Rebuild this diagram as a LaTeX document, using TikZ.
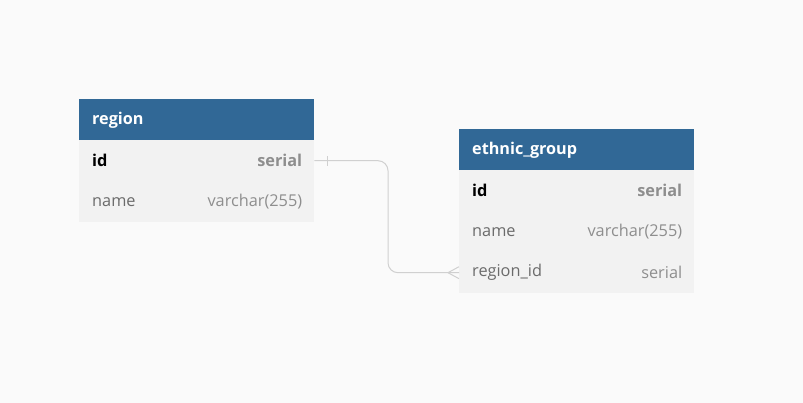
\documentclass[tikz,border=0pt]{standalone}
\usepackage{fontspec}
\setmainfont{Open Sans}
\begin{document}
\begin{tikzpicture}[x=1pt,y=-1pt,
  hdr/.style={fill=hdrblue,draw=none,minimum width=235pt,minimum height=41pt,inner sep=0pt,anchor=north west},
  rowbox/.style={fill=rowgray,draw=none,minimum width=235pt,minimum height=41pt,inner sep=0pt,anchor=north west},
  htext/.style={anchor=west,text=white,font=\fontsize{16.2}{19}\selectfont\bfseries,inner sep=0pt},
  fname/.style={anchor=west,text=namegray,font=\fontsize{16.3}{19}\selectfont,inner sep=0pt},
  fkey/.style={anchor=west,text=black,font=\fontsize{16.3}{19}\selectfont\bfseries,inner sep=0pt},
  ftype/.style={anchor=east,text=typegray,font=\fontsize{16.3}{19}\selectfont,inner sep=0pt},
  fktype/.style={anchor=east,text=typegray,font=\fontsize{16.3}{19}\selectfont\bfseries,inner sep=0pt},
  conn/.style={draw=linegray,line width=1pt}
]
\definecolor{hdrblue}{HTML}{316896}
\definecolor{rowgray}{HTML}{F2F2F2}
\definecolor{namegray}{HTML}{6B6B6B}
\definecolor{typegray}{HTML}{8E8E8E}
\definecolor{linegray}{HTML}{D0D0D0}
\definecolor{bg}{HTML}{FAFAFA}
\fill[bg] (0,0) rectangle (803,403);
\useasboundingbox (0,0) rectangle (803,403);

% region table
\node[hdr] (rh) at (79,99) {};
\node[rowbox] (r1) at (79,140) {};
\node[rowbox] (r2) at (79,181) {};
\node[htext] (rht) at ([xshift=13pt,yshift=-1pt]rh.west) {region};
\node[fkey] (r1n) at ([xshift=13pt]r1.west) {id};
\node[fktype] (r1t) at ([xshift=-12pt]r1.east) {serial};
\node[fname] (r2n) at ([xshift=13pt]r2.west) {name};
\node[ftype] (r2t) at ([xshift=-12pt]r2.east) {varchar(255)};

% ethnic_group table
\node[hdr] (eh) at (459,129) {};
\node[rowbox] (e1) at (459,170) {};
\node[rowbox] (e2) at (459,211) {};
\node[rowbox] (e3) at (459,252) {};
\node[htext] (eht) at ([xshift=13pt,yshift=-1pt]eh.west) {ethnic\_group};
\node[fkey] (e1n) at ([xshift=13pt]e1.west) {id};
\node[fktype] (e1t) at ([xshift=-12pt]e1.east) {serial};
\node[fname] (e2n) at ([xshift=13pt]e2.west) {name};
\node[ftype] (e2t) at ([xshift=-12pt]e2.east) {varchar(255)};
\node[fname] (e3n) at ([xshift=13pt]e3.west) {region\_id};
\node[ftype] (e3t) at ([xshift=-12pt]e3.east) {serial};

% connector
\coordinate (bend) at (388,0);
\draw[conn,rounded corners=10pt] (r1.east) -- (r1.east -| bend) -- (e3.west -| bend) -- (e3.west);
% one mark
\draw[conn] ([xshift=13pt,yshift=-5pt]r1.east) -- ([xshift=13pt,yshift=5pt]r1.east);
% crow's foot
\draw[conn] ([xshift=-11pt]e3.west) -- ([yshift=-6pt]e3.west);
\draw[conn] ([xshift=-11pt]e3.west) -- ([yshift=6pt]e3.west);
\end{tikzpicture}
\end{document}
